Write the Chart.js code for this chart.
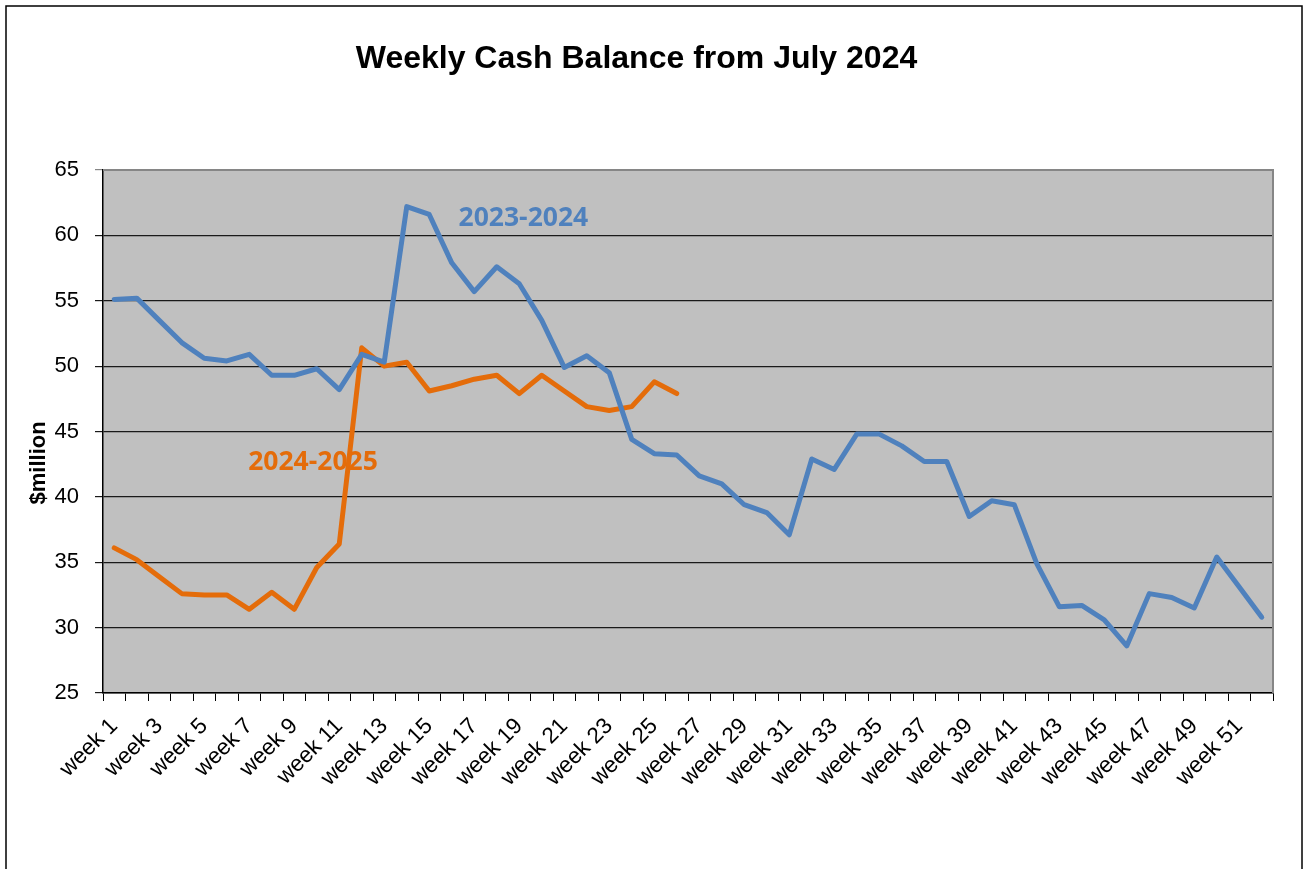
<!DOCTYPE html>
<html lang="en">
<head>
    <meta charset="UTF-8" />
    <title>Weekly Cash Balance</title>
    <script src="https://cdn.jsdelivr.net/npm/chart.js"></script>
    <style>
        body { margin: 0; background: #fff; }
        #cashChart { display: block; }
    </style>
</head>
<body>
    <canvas id="cashChart" width="1308" height="869"></canvas>

    <script>
        // WEEK LABELS ON THE X AXIS
        const weeks = [
            "week 1", "week 2", "week 3", "week 4", "week 5", "week 6", "week 7", "week 8", "week 9", "week 10",
            "week 11", "week 12", "week 13", "week 14", "week 15", "week 16", "week 17", "week 18", "week 19", "week 20",
            "week 21", "week 22", "week 23", "week 24", "week 25", "week 26", "week 27", "week 28", "week 29", "week 30",
            "week 31", "week 32", "week 33", "week 34", "week 35", "week 36", "week 37", "week 38", "week 39", "week 40",
            "week 41", "week 42", "week 43", "week 44", "week 45", "week 46", "week 47", "week 48", "week 49", "week 50",
            "week 51", "week 52"
        ];

        // $million balances
        const balance2023 = [
            55.1, 55.2, 53.5, 51.8, 50.6, 50.4, 50.9, 49.3, 49.3, 49.8,
            48.2, 50.9, 50.3, 62.2, 61.6, 57.9, 55.7, 57.6, 56.3, 53.5,
            49.9, 50.8, 49.5, 44.4, 43.3, 43.2, 41.6, 41.0, 39.4, 38.8,
            37.1, 42.9, 42.1, 44.8, 44.8, 43.9, 42.7, 42.7, 38.5, 39.7,
            39.4, 34.9, 31.6, 31.7, 30.6, 28.6, 32.6, 32.3, 31.5, 35.4,
            33.1, 30.8
        ];
        const balance2024 = [
            36.1, 35.2, 33.9, 32.6, 32.5, 32.5, 31.4, 32.7, 31.4, 34.6,
            36.4, 51.4, 50.0, 50.3, 48.1, 48.5, 49.0, 49.3, 47.9, 49.3,
            48.1, 46.9, 46.6, 46.9, 48.8, 47.9
        ];

        // series names shown inside the plot, anchored at [week index, value]
        const seriesNames = ["2023-2024", "2024-2025"];
        const nameAnchors = [[15.3, 61.3], [5.95, 42.6]];

        const blue = "#4F81BD";
        const orange = "#E46C0A";

        Chart.defaults.font.family = "'Liberation Sans', Arial, sans-serif";
        Chart.defaults.color = "#000";

        // GREY PLOT AREA, FRAME, OUTER BORDER AND SERIES NAMES
        const decor = {
            id: "decor",
            beforeDraw(chart) {
                const { ctx, chartArea: a } = chart;
                ctx.save();
                ctx.fillStyle = "#fff";
                ctx.fillRect(0, 0, chart.width, chart.height);
                ctx.strokeStyle = "#000";
                ctx.lineWidth = 1.5;
                ctx.strokeRect(6, 6, chart.width - 12, chart.height + 20);
                ctx.fillStyle = "#C0C0C0";
                ctx.fillRect(a.left, a.top, a.right - a.left, a.bottom - a.top);
                ctx.restore();
            },
            beforeDatasetsDraw(chart) {
                const { ctx, chartArea: a } = chart;
                ctx.save();
                ctx.strokeStyle = "#868686";
                ctx.lineWidth = 2;
                ctx.beginPath();
                ctx.moveTo(a.left, a.top);
                ctx.lineTo(a.right, a.top);
                ctx.lineTo(a.right, a.bottom);
                ctx.stroke();

                // y axis title sits lower than centre, as in the original
                ctx.font = "bold 22px 'Liberation Sans', Arial, sans-serif";
                ctx.fillStyle = "#000";
                ctx.textAlign = "center";
                ctx.textBaseline = "middle";
                ctx.translate(39, chart.scales.y.getPixelForValue(42.6));
                ctx.rotate(-Math.PI / 2);
                ctx.fillText("$million", 0, 0);
                ctx.restore();
            },
            afterDatasetsDraw(chart) {
                const { ctx, scales } = chart;
                ctx.save();
                ctx.font = "bold 26.5px 'Open Sans', sans-serif";
                ctx.textAlign = "left";
                ctx.textBaseline = "middle";
                [blue, orange].forEach((c, i) => {
                    ctx.fillStyle = c;
                    ctx.fillText(seriesNames[i],
                        scales.x.getPixelForValue(nameAnchors[i][0]),
                        scales.y.getPixelForValue(nameAnchors[i][1]));
                });
                ctx.restore();
            }
        };

        new Chart(document.getElementById("cashChart"), {
            type: "line",
            data: {
                labels: weeks,
                datasets: [
                    {
                        label: seriesNames[0],
                        data: balance2023,
                        borderColor: blue,
                        borderWidth: 5,
                        pointRadius: 0,
                        tension: 0,
                        borderJoinStyle: "round",
                        borderCapStyle: "round"
                    },
                    {
                        label: seriesNames[1],
                        data: balance2024,
                        borderColor: orange,
                        borderWidth: 5,
                        pointRadius: 0,
                        tension: 0,
                        borderJoinStyle: "round",
                        borderCapStyle: "round"
                    }
                ]
            },
            options: {
                responsive: false,
                animation: false,
                layout: { padding: { left: 0, right: 35, top: 0, bottom: 0 } },
                plugins: {
                    legend: { display: false },
                    tooltip: { enabled: false },
                    title: {
                        display: true,
                        text: "Weekly Cash Balance from July 2024",
                        font: { size: 32, weight: "bold" },
                        color: "#000",
                        padding: { top: 40, bottom: 91.6 }
                    }
                },
                scales: {
                    x: {
                        offset: true,
                        afterFit: s => { s.height = 176; },
                        grid: {
                            offset: true,
                            drawOnChartArea: false,
                            drawTicks: true,
                            tickLength: 8,
                            color: "#000"
                        },
                        border: { color: "#000", width: 1.5 },
                        ticks: {
                            autoSkip: false,
                            minRotation: 45,
                            maxRotation: 45,
                            padding: 12,
                            font: { size: 22.5 },
                            callback: (v, i) => (i % 2 === 0 ? weeks[i] : "")
                        }
                    },
                    y: {
                        min: 25,
                        max: 65,
                        afterFit: s => { s.width = 103; },
                        grid: {
                            color: ctx => (ctx.tick && ctx.tick.value === 65 ? "#868686" : "#1a1a1a"),
                            lineWidth: 1.2,
                            tickLength: 8
                        },
                        border: { color: "#000", width: 1.5 },
                        ticks: {
                            stepSize: 5,
                            padding: 16,
                            font: { size: 22 }
                        }
                    }
                }
            },
            plugins: [decor]
        });
    </script>
</body>
</html>
